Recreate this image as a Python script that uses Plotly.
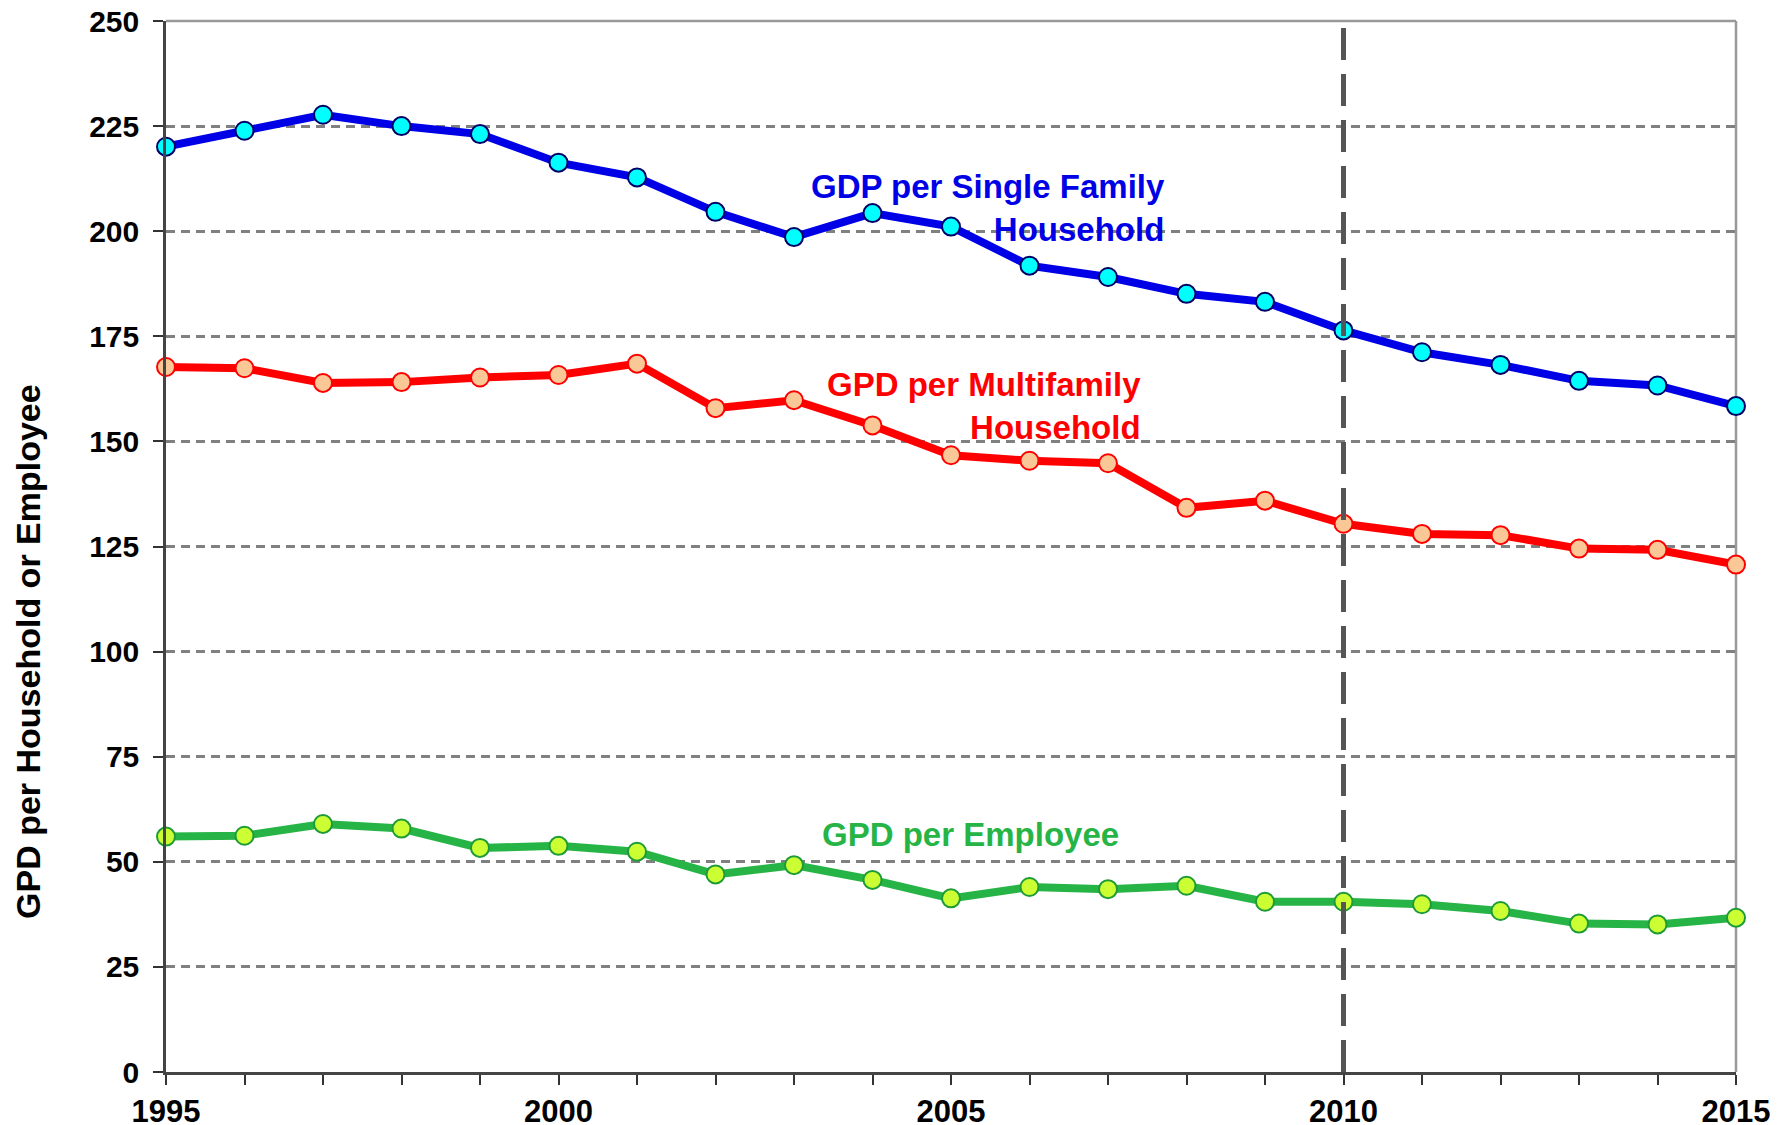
import plotly.graph_objects as go

years = list(range(1995, 2016))
single_family = [220.1, 223.9, 227.7, 225.0, 223.1, 216.3, 212.8, 204.6, 198.6, 204.3,
                 201.1, 191.8, 189.1, 185.1, 183.2, 176.4, 171.2, 168.2, 164.4, 163.3, 158.4]
multifamily = [167.7, 167.4, 163.9, 164.1, 165.2, 165.8, 168.5, 157.9, 159.8, 153.8,
               146.7, 145.4, 144.8, 134.2, 135.9, 130.4, 128.0, 127.7, 124.5, 124.2, 120.7]
employee = [56.0, 56.2, 59.0, 57.9, 53.3, 53.8, 52.4, 47.0, 49.2, 45.7,
            41.3, 44.0, 43.5, 44.3, 40.5, 40.5, 39.9, 38.3, 35.3, 35.1, 36.7]

series_names = ["GDP per Single Family<br>Household", "GPD per Multifamily<br>Household", "GPD per Employee"]
y_title = "GPD per Household or Employee"
marker_year = 2010

FONT = "Arial, Liberation Sans, sans-serif"

fig = go.Figure()
styles = [
    (single_family, "#0000E6", "#00FFFF", "#000066"),
    (multifamily, "#FF0000", "#FAC896", "#FF0000"),
    (employee, "#27B446", "#CCFF33", "#1E9B38"),
]
for (vals, lc, mf, ml), name in zip(styles, series_names):
    fig.add_trace(go.Scatter(
        x=years, y=vals, mode="lines+markers", name=name.replace("<br>", " "),
        line=dict(color=lc, width=8),
        marker=dict(size=18, color=mf, line=dict(color=ml, width=2)),
        showlegend=False, cliponaxis=False,
    ))

# vertical dashed reference line
fig.add_shape(type="line", x0=marker_year, x1=marker_year, y0=0, y1=251.5,
              xref="x", yref="y", line=dict(color="#555555", width=5, dash="32px,14px"), layer="above")
# top and right border
fig.add_shape(type="line", x0=0, x1=1, y0=1, y1=1, xref="paper", yref="paper",
              line=dict(color="#999999", width=2.5), layer="below")
fig.add_shape(type="line", x0=1, x1=1, y0=0, y1=1, xref="paper", yref="paper",
              line=dict(color="#999999", width=2.5), layer="below")

ann_font = dict(family=FONT, size=33, weight="bold")
fig.add_annotation(x=2007.75, y=205.5, text=series_names[0], showarrow=False,
                   xanchor="right", yanchor="middle", align="right",
                   font=dict(color="#0000E6", **ann_font))
fig.add_annotation(x=2007.45, y=158.5, text=series_names[1], showarrow=False,
                   xanchor="right", yanchor="middle", align="right",
                   font=dict(color="#FF0000", **ann_font))
fig.add_annotation(x=2005.25, y=56.5, text=series_names[2], showarrow=False,
                   xanchor="center", yanchor="middle",
                   font=dict(color="#27B446", **ann_font))
# y axis title
fig.add_annotation(x=-0.0879, y=0.4006, xref="paper", yref="paper", text=y_title,
                   textangle=-90, showarrow=False, xanchor="center", yanchor="middle",
                   font=dict(family=FONT, size=34, weight="bold", color="black"))

# the page body adds an 8px offset, so the figure is 8px smaller than the window
fig.update_layout(
    width=1782, height=1117,
    margin=dict(l=158, r=54, t=13, b=53),
    plot_bgcolor="white", paper_bgcolor="white",
    font=dict(family=FONT, color="black"),
)
fig.update_xaxes(
    range=[1995, 2015], tickmode="linear", tick0=1995, dtick=5,
    ticks="outside", ticklen=10, tickcolor="#333333", tickwidth=1.5,
    minor=dict(dtick=1, tick0=1995, ticks="outside", ticklen=10, tickcolor="#333333", showgrid=False),
    showgrid=False, showline=True, linecolor="#444444", linewidth=2.5,
    tickfont=dict(family=FONT, size=31, weight="bold", color="black"),
    zeroline=False, automargin=False, ticklabeloverflow="allow",
)
fig.update_yaxes(
    range=[0, 250], tickmode="linear", tick0=0, dtick=25,
    ticks="outside", ticklen=10, tickcolor="#333333", tickwidth=1.5,
    showgrid=True, gridcolor="#808080", gridwidth=2.5, griddash="9px,6px",
    showline=True, linecolor="#444444", linewidth=2.5, zeroline=False,
    tickfont=dict(family=FONT, size=30, weight="bold", color="black"),
    automargin=False, ticklabeloverflow="allow", ticklabelstandoff=8,
)

fig.write_html("out.html")
